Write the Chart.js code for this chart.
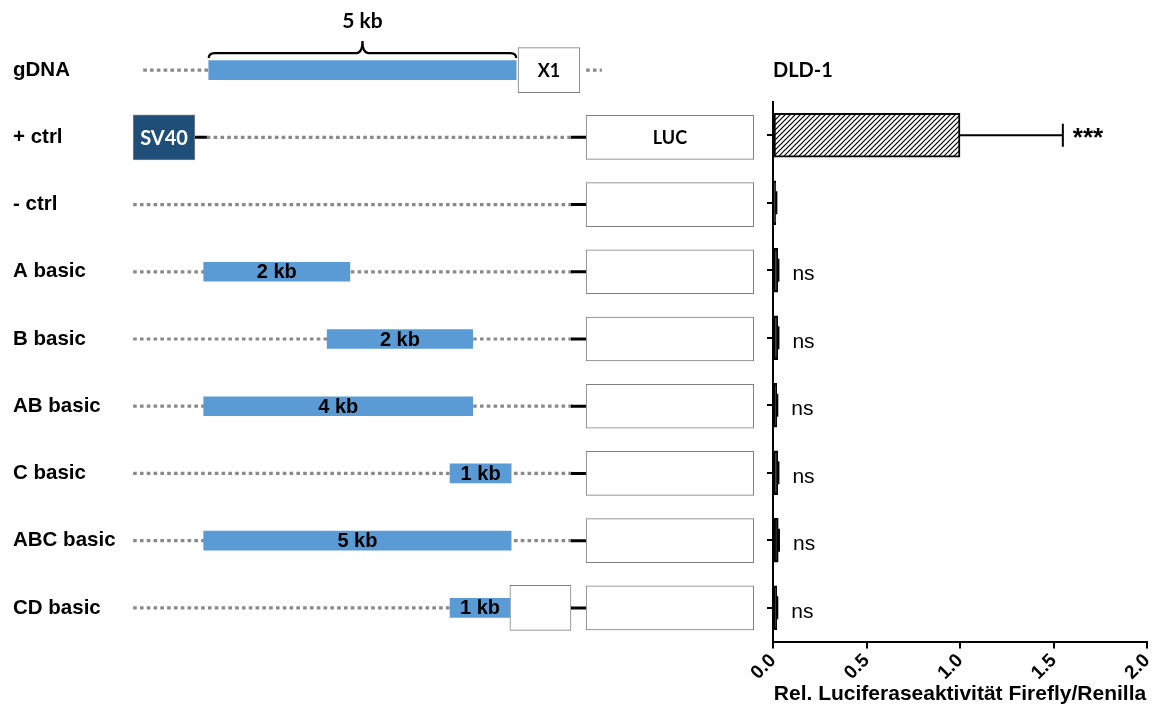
<!DOCTYPE html>
<html>
<head>
<meta charset="utf-8">
<script src="https://cdn.jsdelivr.net/npm/chart.js@4.4.0/dist/chart.umd.min.js"></script>
<style>
  html, body { margin: 0; padding: 0; background: #fff; }
  #wrap { position: relative; width: 1157px; height: 707px; }
  #wrap canvas { position: absolute; left: 0; top: 0; }
</style>
</head>
<body>
<div id="wrap">
  <canvas id="mapChart" width="1157" height="707"></canvas>
  <canvas id="lucChart" width="1157" height="707"></canvas>
</div>
<script>
const rows = ["gDNA", "+ ctrl", "- ctrl", "A basic", "B basic", "AB basic", "C basic", "ABC basic", "CD basic"];
const constructs = rows.slice(1);

// schematic map positions (drawing units, not to scale)
const insertRows = ["gDNA", "A basic", "B basic", "AB basic", "C basic", "ABC basic", "CD basic"];
const insertStart = [1.25, 1.17, 3.13, 1.17, 5.08, 1.17, 5.08];
const insertEnd = [6.13, 3.49, 5.44, 5.44, 6.05, 6.05, 6.03];
const insertLabels = ["", "2 kb", "2 kb", "4 kb", "1 kb", "5 kb", "1 kb"];

const exonRows = ["gDNA", "CD basic"];
const exonStart = [6.16, 6.03];
const exonEnd = [7.14, 7.0];
const exonLabels = ["X1", ""];

const promoterRows = ["+ ctrl"];
const promoterStart = [0.05];
const promoterEnd = [1.03];
const promoterLabels = ["SV40"];

const lucStart = 7.24;
const lucEnd = 9.9;
const lucLabels = ["LUC", "", "", "", "", "", "", ""];

const backboneStart = [1.22, 0.05, 0.05, 0.05, 0.05, 0.05, 0.05, 0.05];
const backboneEnd = 7.02;
const gdnaFlanks = [[0.21, 1.25], [7.24, 7.49]];
const gdnaSpan = "5 kb";

// luciferase assay, DLD-1
const activity = [1.0, 0.015, 0.025, 0.025, 0.02, 0.025, 0.028, 0.02];
const activityErr = [0.55, 0.003, 0.004, 0.004, 0.003, 0.004, 0.004, 0.003];
const significance = ["***", "", "ns", "ns", "ns", "ns", "ns", "ns"];
const valueTicks = [0, 0.5, 1.0, 1.5, 2.0];

function segments(list) {
  const pts = [];
  list.forEach(([row, a, b]) => {
    pts.push({ x: a, y: row }, { x: b, y: row }, { x: null, y: row });
  });
  return pts;
}

function floating(rowList, from, to) {
  return rowList.map((r, i) => ({ y: r, x: [from[i], to[i]] }));
}

const dotted = segments([
  ...gdnaFlanks.map(f => ["gDNA", f[0], f[1]]),
  ...constructs.map((r, i) => [r, backboneStart[i], backboneEnd])
]);
const connectors = segments([
  ["+ ctrl", promoterEnd[0], backboneStart[0]],
  ...constructs.map(r => [r, 7.0, lucStart])
]);

// labels inside the map boxes
const mapTextPlugin = {
  id: "mapText",
  afterDatasetsDraw(chart) {
    const ctx = chart.ctx;
    chart.data.datasets.forEach((ds, i) => {
      if (!ds.texts) return;
      chart.getDatasetMeta(i).data.forEach((bar, j) => {
        const t = ds.texts[j];
        if (!t) return;
        const c = bar.getCenterPoint();
        ctx.save();
        ctx.font = ds.textFont;
        ctx.fillStyle = ds.textColor;
        ctx.textAlign = "center";
        ctx.textBaseline = "middle";
        ctx.fillText(t, c.x, c.y + 1);
        ctx.restore();
      });
    });
  }
};

// curly brace over the genomic region
const bracePlugin = {
  id: "brace",
  afterDatasetsDraw(chart) {
    const { ctx, scales: { x, y } } = chart;
    const xa = x.getPixelForValue(insertStart[0]);
    const xb = x.getPixelForValue(insertEnd[0]);
    const yc = y.getPixelForValue(0);
    const yFlat = yc - 17, yEnd = yc - 12, yTip = yc - 29;
    const xm = (xa + xb) / 2, r = 6;
    ctx.save();
    ctx.strokeStyle = "#000";
    ctx.lineWidth = 2.2;
    ctx.beginPath();
    ctx.moveTo(xa, yEnd);
    ctx.quadraticCurveTo(xa, yFlat, xa + r, yFlat);
    ctx.lineTo(xm - r, yFlat);
    ctx.quadraticCurveTo(xm, yFlat, xm, yTip);
    ctx.quadraticCurveTo(xm, yFlat, xm + r, yFlat);
    ctx.lineTo(xb - r, yFlat);
    ctx.quadraticCurveTo(xb, yFlat, xb, yEnd);
    ctx.stroke();
    ctx.font = "bold 21px Lato";
    ctx.fillStyle = "#000";
    ctx.textAlign = "center";
    ctx.textBaseline = "middle";
    ctx.fillText(gdnaSpan, xm, yc - 49);
    ctx.restore();
  }
};

new Chart(document.getElementById("mapChart"), {
  type: "bar",
  data: {
    labels: rows,
    datasets: [
      {
        type: "line",
        data: dotted,
        borderColor: "#898989",
        borderWidth: 3.2,
        borderDash: [3.6, 3.2],
        borderCapStyle: "butt",
        pointRadius: 0,
        order: 3
      },
      {
        type: "line",
        data: connectors,
        borderColor: "#000",
        borderWidth: 3,
        pointRadius: 0,
        order: 2
      },
      {
        data: floating(insertRows, insertStart, insertEnd),
        backgroundColor: "#5b9bd5",
        barThickness: 19,
        grouped: false,
        order: 1,
        texts: insertLabels,
        textFont: "bold 20px 'Liberation Sans', Arial",
        textColor: "#000"
      },
      {
        data: floating(exonRows, exonStart, exonEnd),
        backgroundColor: "#fff",
        borderColor: "#7f7f7f",
        borderWidth: 1,
        borderSkipped: false,
        barThickness: 45,
        grouped: false,
        order: 1,
        texts: exonLabels,
        textFont: "bold 18px Lato",
        textColor: "#000"
      },
      {
        data: constructs.map(r => ({ y: r, x: [lucStart, lucEnd] })),
        backgroundColor: "#fff",
        borderColor: "#7f7f7f",
        borderWidth: 1,
        borderSkipped: false,
        barThickness: 44,
        grouped: false,
        order: 1,
        texts: lucLabels,
        textFont: "bold 18px Lato",
        textColor: "#000"
      },
      {
        data: floating(promoterRows, promoterStart, promoterEnd),
        backgroundColor: "#1f4e79",
        borderColor: "#7f7f7f",
        borderWidth: 1,
        borderSkipped: false,
        barThickness: 45,
        grouped: false,
        order: 1,
        texts: promoterLabels,
        textFont: "bold 20px Lato",
        textColor: "#fff"
      }
    ]
  },
  options: {
    indexAxis: "y",
    responsive: false,
    animation: false,
    events: [],
    layout: { padding: { left: 13, right: 397, top: 36.5, bottom: 65.5 } },
    plugins: { legend: { display: false }, tooltip: { enabled: false } },
    scales: {
      x: { display: false, min: 0, max: 10 },
      y: {
        ticks: {
          crossAlign: "far",
          color: "#000",
          padding: 0,
          font: { family: "'Liberation Sans', Arial", weight: "bold", size: 20.5 }
        },
        grid: { display: false },
        border: { display: false },
        afterFit: s => { s.width = 117; }
      }
    }
  },
  plugins: [mapTextPlugin, bracePlugin]
});

// luciferase bar chart
const lucCanvas = document.getElementById("lucChart");
const lucCtx = lucCanvas.getContext("2d");

function hatch(ctx) {
  const c = document.createElement("canvas");
  c.width = 5; c.height = 5;
  const g = c.getContext("2d");
  g.fillStyle = "#fff";
  g.fillRect(0, 0, 5, 5);
  g.strokeStyle = "#000";
  g.lineWidth = 1.2;
  g.beginPath();
  g.moveTo(0, 5); g.lineTo(5, 0);
  g.moveTo(-1, 1); g.lineTo(1, -1);
  g.moveTo(4, 6); g.lineTo(6, 4);
  g.stroke();
  return ctx.createPattern(c, "repeat");
}
const hatchFill = hatch(lucCtx);

const errorBarPlugin = {
  id: "errorBars",
  afterDatasetsDraw(chart) {
    const { ctx, scales: { x } } = chart;
    const meta = chart.getDatasetMeta(0);
    ctx.save();
    meta.data.forEach((bar, i) => {
      const y = bar.y;
      const x0 = x.getPixelForValue(activity[i]);
      const x1 = x.getPixelForValue(activity[i] + activityErr[i]);
      ctx.strokeStyle = "#000";
      ctx.lineWidth = 2;
      ctx.beginPath();
      ctx.moveTo(x0, y);
      ctx.lineTo(x1, y);
      ctx.moveTo(x1, y - 11.5);
      ctx.lineTo(x1, y + 11.5);
      ctx.stroke();
      const s = significance[i];
      if (!s) return;
      ctx.fillStyle = "#000";
      ctx.textAlign = "left";
      ctx.textBaseline = "middle";
      if (s === "ns") {
        ctx.font = "21px 'Liberation Sans', Arial";
        ctx.fillText(s, Math.max(x1, bar.x) + 14, y + 4);
      } else {
        ctx.font = "bold 26px 'Liberation Sans', Arial";
        ctx.fillText(s, x1 + 10, y + 4);
      }
    });
    ctx.restore();
  }
};

const panelTitlePlugin = {
  id: "panelTitle",
  afterDraw(chart) {
    const ctx = chart.ctx;
    ctx.save();
    ctx.font = "bold 20px Lato";
    ctx.fillStyle = "#000";
    ctx.textAlign = "left";
    ctx.textBaseline = "middle";
    ctx.fillText("DLD-1", chart.chartArea.left, 71);
    ctx.restore();
  }
};

new Chart(lucCtx, {
  type: "bar",
  data: {
    labels: constructs,
    datasets: [
      {
        label: "DLD-1",
        data: activity,
        // tiny bars print as solid black marks
        backgroundColor: ctx => (activity[ctx.dataIndex] < 0.1 ? "#000" : hatchFill),
        borderColor: "#000",
        borderWidth: 2,
        borderSkipped: false,
        barThickness: 44
      }
    ]
  },
  options: {
    indexAxis: "y",
    responsive: false,
    animation: false,
    events: [],
    layout: { padding: { left: 733, right: 10, top: 101.5, bottom: 0 } },
    plugins: { legend: { display: false }, tooltip: { enabled: false } },
    scales: {
      x: {
        min: 0,
        max: 2,
        afterBuildTicks: s => { s.ticks = valueTicks.map(v => ({ value: v })); },
        ticks: {
          minRotation: 45,
          maxRotation: 45,
          color: "#000",
          padding: 1,
          font: { family: "'Liberation Sans', Arial", weight: "bold", size: 19 },
          callback: v => Number(v).toFixed(1)
        },
        grid: { drawOnChartArea: false, color: "#000", lineWidth: 2, tickLength: 7 },
        border: { color: "#000", width: 2 },
        title: {
          display: true,
          text: "Rel. Luciferaseaktivität Firefly/Renilla",
          color: "#000",
          padding: { top: 0, bottom: 0 },
          font: { family: "'Liberation Sans', Arial", weight: "bold", size: 21 }
        },
        afterFit: s => { s.height = 65.5; s.paddingLeft = 0; s.paddingRight = 0; }
      },
      y: {
        ticks: { display: false },
        grid: { drawOnChartArea: false, offset: false, color: "#000", lineWidth: 2, tickLength: 6 },
        border: { color: "#000", width: 2 },
        afterFit: s => { s.width = 40; }
      }
    }
  },
  plugins: [errorBarPlugin, panelTitlePlugin]
});
</script>
</body>
</html>
